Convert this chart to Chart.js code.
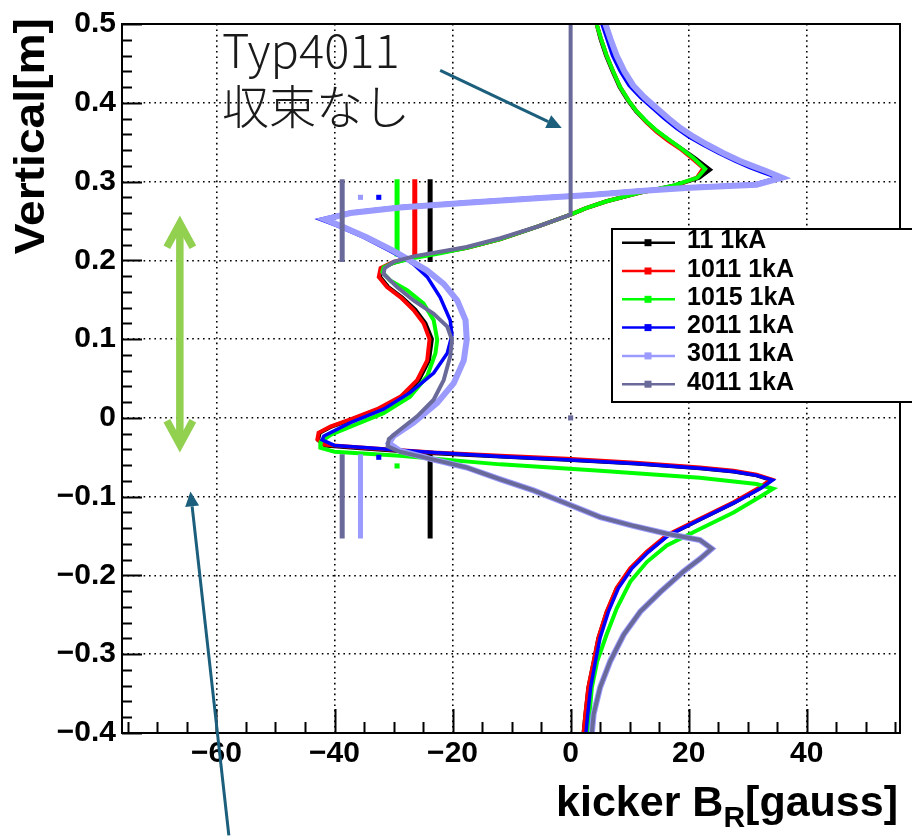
<!DOCTYPE html>
<html>
<head>
<meta charset="utf-8">
<script src="https://cdn.jsdelivr.net/npm/chart.js@4.4.1/dist/chart.umd.min.js"></script>
<style>
  html, body { margin: 0; padding: 0; background: #ffffff; }
  canvas { display: block; }
</style>
</head>
<body>
<canvas id="c" width="912" height="836"></canvas>
<script>
// Kicker radial field B_R [gauss] versus vertical position [m] for six kicker types at 1 kA.
// Each curve is a list of [B_R, vertical] samples.
const curve11 = [[4.4,0.5],[5.1,0.48],[6.0,0.46],[7.1,0.44],[8.3,0.42],[9.7,0.403],[11.1,0.389],[12.8,0.376],[14.6,0.364],[16.6,0.353],[18.7,0.342],[21.0,0.33],[23.6,0.315],[21.8,0.305],[17.6,0.295],[11.8,0.286],[6.1,0.275],[2.5,0.266],[0,0.258],[-5.5,0.243],[-11.9,0.227],[-17.6,0.216],[-22.1,0.21],[-26.6,0.204],[-30,0.197],[-32,0.19],[-32.3,0.179],[-30.9,0.166],[-28.6,0.153],[-26.3,0.137],[-24.6,0.12],[-23.5,0.1],[-24,0.073],[-25.7,0.048],[-28.5,0.027],[-32.5,0.011],[-37,-0.002],[-40.5,-0.011],[-42.5,-0.019],[-42.8,-0.028],[-41.6,-0.035],[-35,-0.039],[-28.9,-0.042],[-23.2,-0.045],[-11.9,-0.049],[-0.6,-0.053],[11,-0.058],[21.9,-0.064],[27.6,-0.068],[31.5,-0.073],[34,-0.079],[32.1,-0.089],[27.6,-0.108],[21.9,-0.129],[16.3,-0.15],[12.9,-0.171],[10.1,-0.192],[7.8,-0.217],[6.1,-0.247],[4.7,-0.28],[3.9,-0.31],[3.0,-0.343],[2.5,-0.377],[2.2,-0.4]];

const curve1011 = [[4.4,0.5],[5.2,0.48],[6.1,0.46],[7.2,0.44],[8.4,0.42],[9.8,0.403],[11.2,0.389],[12.9,0.375],[14.6,0.363],[16.5,0.352],[18.5,0.342],[20.5,0.33],[22.5,0.317],[21.4,0.305],[17.4,0.294],[11.8,0.286],[6.1,0.275],[2.5,0.266],[0,0.258],[-5.5,0.243],[-11.9,0.227],[-17.6,0.216],[-22.1,0.21],[-26.6,0.204],[-30,0.198],[-32.2,0.19],[-32.5,0.179],[-31.1,0.166],[-28.8,0.153],[-26.6,0.137],[-24.9,0.12],[-23.9,0.1],[-24.3,0.073],[-26,0.048],[-28.8,0.027],[-32.8,0.011],[-37.3,-0.002],[-40.7,-0.011],[-42.7,-0.019],[-42.9,-0.027],[-41.8,-0.034],[-35,-0.038],[-28.9,-0.041],[-23.2,-0.044],[-11.9,-0.048],[-0.6,-0.052],[11,-0.057],[21.9,-0.063],[27.6,-0.067],[31.5,-0.072],[34,-0.078],[32.1,-0.088],[27.6,-0.107],[21.9,-0.128],[16.3,-0.149],[12.9,-0.17],[10.1,-0.191],[7.8,-0.216],[6.1,-0.246],[4.7,-0.279],[3.9,-0.309],[3.0,-0.342],[2.5,-0.376],[2.2,-0.4]];

const curve1015 = [[4.4,0.5],[5.2,0.48],[6.1,0.46],[7.2,0.44],[8.4,0.42],[9.8,0.403],[11.2,0.389],[12.9,0.376],[14.7,0.364],[16.7,0.353],[18.7,0.342],[20.8,0.33],[22.8,0.316],[21.5,0.305],[17.5,0.295],[11.8,0.286],[6.1,0.275],[2.5,0.266],[0,0.258],[-5.5,0.243],[-11.9,0.227],[-17.6,0.216],[-22.1,0.209],[-26.6,0.203],[-30,0.197],[-31.7,0.191],[-31.9,0.185],[-30.5,0.174],[-27.7,0.162],[-24.9,0.145],[-23.2,0.124],[-22.6,0.099],[-22.9,0.082],[-24.3,0.053],[-27.2,0.027],[-31.7,0.006],[-37.3,-0.011],[-40.5,-0.021],[-42.3,-0.03],[-42.4,-0.038],[-40,-0.043],[-28.9,-0.048],[-11.9,-0.059],[5,-0.067],[21.9,-0.076],[31.5,-0.084],[34.3,-0.09],[32.1,-0.1],[27.6,-0.12],[21.9,-0.141],[16.3,-0.162],[12.9,-0.183],[10.1,-0.208],[7.8,-0.242],[6.1,-0.275],[4.5,-0.309],[3.6,-0.342],[3.2,-0.376],[2.9,-0.4]];

const curve2011 = [[5.3,0.5],[6.2,0.48],[7.1,0.46],[8.4,0.44],[9.9,0.422],[11.8,0.407],[13.9,0.393],[15.9,0.38],[17.9,0.368],[20.0,0.357],[22.3,0.347],[25.1,0.336],[27.9,0.326],[30.3,0.318],[32.4,0.312],[35.0,0.305],[31.3,0.297],[20.2,0.293],[11.8,0.289],[3.3,0.284],[-5.1,0.28],[-17.6,0.274],[-28.9,0.268],[-37.3,0.261],[-42.4,0.252],[-39.6,0.244],[-35,0.229],[-30.6,0.212],[-27.6,0.2],[-26.6,0.195],[-24.3,0.179],[-22.1,0.153],[-20.4,0.124],[-20.1,0.105],[-20.9,0.082],[-23.2,0.057],[-27.2,0.032],[-31.7,0.011],[-37.3,-0.006],[-41.8,-0.023],[-42.1,-0.028],[-40,-0.035],[-34.5,-0.038],[-28.9,-0.041],[-23.2,-0.044],[-11.9,-0.049],[-0.6,-0.053],[11,-0.058],[21.9,-0.064],[27.6,-0.068],[31.5,-0.073],[34.2,-0.079],[32.3,-0.089],[27.9,-0.107],[22.2,-0.128],[16.6,-0.149],[13.2,-0.17],[10.4,-0.191],[8.1,-0.216],[6.4,-0.246],[5.0,-0.279],[4.2,-0.309],[3.4,-0.342],[2.9,-0.376],[2.6,-0.4]];

const curve3011 = [[5.9,0.5],[6.8,0.48],[7.8,0.46],[9.1,0.44],[10.6,0.422],[12.5,0.407],[14.6,0.393],[16.6,0.38],[18.6,0.368],[20.8,0.357],[23.1,0.347],[25.9,0.336],[28.7,0.326],[31.1,0.319],[33.2,0.313],[35.8,0.305],[31.5,0.296],[20.2,0.292],[11.8,0.288],[3.3,0.283],[-5.1,0.279],[-17.6,0.273],[-28.9,0.267],[-37.3,0.26],[-41.6,0.252],[-39,0.244],[-34.5,0.229],[-30,0.212],[-27.2,0.2],[-24.3,0.187],[-21.5,0.17],[-19.2,0.149],[-17.8,0.124],[-17.6,0.099],[-18.1,0.073],[-19.8,0.044],[-22.6,0.019],[-26.6,-0.006],[-30,-0.023],[-30.8,-0.032],[-28.9,-0.042],[-23.2,-0.053],[-17.6,-0.063],[-11.9,-0.078],[-6.3,-0.092],[-0.6,-0.109],[5,-0.126],[10.6,-0.137],[16.3,-0.147],[21.9,-0.155],[23.9,-0.166],[21.9,-0.179],[19.1,-0.195],[15.2,-0.221],[11.8,-0.246],[9,-0.275],[6.7,-0.309],[5,-0.342],[3.9,-0.376],[3.6,-0.4]];

const curve4011 = [[0,0.5],[0,0.45],[0,0.4],[0,0.35],[0,0.3],[0,0.258],[-5.5,0.243],[-11.9,0.228],[-17.6,0.217],[-22.1,0.211],[-26.6,0.205],[-30,0.198],[-31.5,0.19],[-31.7,0.183],[-29.4,0.166],[-26.6,0.149],[-23.2,0.132],[-20.9,0.116],[-20.1,0.099],[-20.4,0.078],[-21.5,0.048],[-23.2,0.023],[-26,0.002],[-28.9,-0.015],[-30.8,-0.027],[-31,-0.036],[-28.9,-0.043],[-23.2,-0.053],[-17.6,-0.063],[-11.9,-0.078],[-6.3,-0.092],[-0.6,-0.109],[5,-0.126],[10.6,-0.137],[16.3,-0.147],[21.9,-0.155],[23.9,-0.166],[21.9,-0.179],[19.1,-0.195],[15.2,-0.221],[11.8,-0.246],[9,-0.275],[6.7,-0.309],[5,-0.342],[3.9,-0.376],[3.6,-0.4]];

// Range averages: [B_R, vertical top, vertical bottom]
const bars11   = [[-23.8, 0.303, 0.198], [-23.8, -0.046, -0.153]];
const bars1011 = [[-26.4, 0.303, 0.206]];
const bars1015 = [[-29.4, 0.303, 0.205]];
const bars3011 = [[-35.6, -0.046, -0.153]];
const bars4011 = [[-38.7, 0.303, 0.198], [-38.7, -0.046, -0.153]];

// Single averaged points: [B_R, vertical]
const dots1015 = [[-29.4, -0.061]];
const dots2011 = [[-32.5, 0.28], [-32.5, -0.05]];
const dots3011 = [[-35.6, 0.28]];
const dots4011 = [[0, 0]];

const seriesNames = ['11 1kA', '1011 1kA', '1015 1kA', '2011 1kA', '3011 1kA', '4011 1kA'];
const xTickValues = [-60, -40, -20, 0, 20, 40];
const yTickValues = [-0.4, -0.3, -0.2, -0.1, 0, 0.1, 0.2, 0.3, 0.4, 0.5];

// Styling for each series, in the order of seriesNames
const seriesColors = ['#000000', '#ff0000', '#00ff00', '#0000ff', '#9a9aff', '#69699a'];
const seriesWidths = [4, 4, 4, 3.5, 6, 4];
const drawOrder    = [6, 5, 4, 3, 2, 1];   // lower value is drawn on top

const curves = [curve11, curve1011, curve1015, curve2011, curve3011, curve4011];
const barSets = [bars11, bars1011, bars1015, [], bars3011, bars4011];
const dotSets = [[], [], dots1015, dots2011, dots3011, dots4011];

const toXY = pts => pts.map(p => ({ x: p[0], y: p[1] }));

const datasets = [];
seriesNames.forEach((name, i) => {
  datasets.push({
    label: name,
    isSeries: true,
    data: toXY(curves[i]),
    showLine: true,
    borderColor: seriesColors[i],
    backgroundColor: seriesColors[i],
    borderWidth: seriesWidths[i],
    pointRadius: 0,
    tension: 0,
    order: drawOrder[i]
  });
  barSets[i].forEach(b => {
    datasets.push({
      label: name + ' range',
      data: [{ x: b[0], y: b[1] }, { x: b[0], y: b[2] }],
      showLine: true,
      borderColor: seriesColors[i],
      borderWidth: 5,
      borderCapStyle: 'butt',
      pointRadius: 0,
      order: drawOrder[i]
    });
  });
  if (dotSets[i].length) {
    datasets.push({
      label: name + ' mean',
      data: toXY(dotSets[i]),
      showLine: false,
      pointStyle: 'rect',
      pointRadius: 3.6,
      borderWidth: 0,
      backgroundColor: seriesColors[i],
      borderColor: seriesColors[i],
      order: drawOrder[i]
    });
  }
});

const fmtMinus = s => s.replace('-', '\u2212');

// Frame, inward tick marks, legend box, axis titles and annotations
const decorations = {
  id: 'decorations',
  afterDatasetsDraw(chart) {
    const { ctx, chartArea: a, scales: { x, y } } = chart;
    ctx.save();
    // inner ticks
    ctx.strokeStyle = '#000';
    ctx.lineWidth = 2;
    ctx.beginPath();
    for (let v = -75; v <= 55; v += 5) {
      const px = Math.round(x.getPixelForValue(v)) + 0.5;
      const len = (v % 20 === 0) ? 24 : 11;
      ctx.moveTo(px, a.bottom);
      ctx.lineTo(px, a.bottom - len);
    }
    for (let k = -20; k <= 25; k++) {
      const py = Math.round(y.getPixelForValue(k * 0.02)) + 0.5;
      const len = (k % 5 === 0) ? 20 : 10;
      ctx.moveTo(a.left, py);
      ctx.lineTo(a.left + len, py);
    }
    ctx.stroke();
    // frame
    ctx.lineWidth = 2;
    ctx.strokeRect(a.left, a.top, a.right - a.left, a.bottom - a.top);
    ctx.restore();
  },
  afterDraw(chart) {
    const { ctx, chartArea: a, scales: { x, y } } = chart;
    const X = v => x.getPixelForValue(v);
    const Y = v => y.getPixelForValue(v);
    ctx.save();

    // legend
    const lx = 612, ly = 229, lw = 320, lh = 173;
    ctx.fillStyle = '#fff';
    ctx.fillRect(lx, ly, lw, lh);
    ctx.strokeStyle = '#000';
    ctx.lineWidth = 2;
    ctx.strokeRect(lx, ly, lw, lh);
    const series = chart.data.datasets.filter(d => d.isSeries);
    ctx.font = 'bold 25px "Liberation Sans", Arial, sans-serif';
    ctx.textBaseline = 'alphabetic';
    ctx.textAlign = 'left';
    series.forEach((d, i) => {
      const ry = 242.7 + i * 28.3;
      ctx.strokeStyle = d.borderColor;
      ctx.lineWidth = 2.5;
      ctx.beginPath();
      ctx.moveTo(622, ry);
      ctx.lineTo(675, ry);
      ctx.stroke();
      ctx.fillStyle = d.borderColor;
      ctx.fillRect(644.5, ry - 3.5, 7, 7);
      ctx.fillStyle = '#000';
      ctx.fillText(d.label, 687, ry + 5.5);
    });

    // y axis title
    ctx.save();
    ctx.translate(44, 18);
    ctx.rotate(-Math.PI / 2);
    ctx.scale(1.1, 1);
    ctx.font = 'bold 42px "Liberation Sans", Arial, sans-serif';
    ctx.fillStyle = '#000';
    ctx.textAlign = 'right';
    ctx.textBaseline = 'alphabetic';
    ctx.fillText('Vertical[m]', 0, 0);
    ctx.restore();

    // x axis title with subscript
    ctx.save();
    ctx.fillStyle = '#000';
    ctx.textBaseline = 'alphabetic';
    const big = 'bold 43px "Liberation Sans", Arial, sans-serif';
    const sub = 'bold 30px "Liberation Sans", Arial, sans-serif';
    ctx.font = big;
    const wA = ctx.measureText('kicker B').width;
    const wC = ctx.measureText('[gauss]').width;
    ctx.font = sub;
    const wB = ctx.measureText('R').width;
    const endX = 898, base = 816;
    const startX = endX - (wA + wB + wC);
    ctx.font = big;
    ctx.fillText('kicker B', startX, base);
    ctx.font = sub;
    ctx.fillText('R', startX + wA, base + 11);
    ctx.font = big;
    ctx.fillText('[gauss]', startX + wA + wB, base);
    ctx.restore();

    // note text
    ctx.fillStyle = '#1a1a1a';
    ctx.font = '300 47px "Noto Sans CJK JP", "Noto Sans", sans-serif';
    ctx.textAlign = 'left';
    ctx.textBaseline = 'alphabetic';
    ctx.fillText('Typ4011', 222, 68);
    ctx.fillText('収束なし', 222, 124);

    // arrows
    const arrow = (x1, y1, x2, y2, color, w, head, hw) => {
      const ang = Math.atan2(y2 - y1, x2 - x1);
      const bx = x2 - head * Math.cos(ang), by = y2 - head * Math.sin(ang);
      ctx.strokeStyle = color;
      ctx.fillStyle = color;
      ctx.lineWidth = w;
      ctx.lineCap = 'butt';
      ctx.beginPath();
      ctx.moveTo(x1, y1);
      ctx.lineTo(bx, by);
      ctx.stroke();
      ctx.beginPath();
      ctx.moveTo(x2, y2);
      ctx.lineTo(bx + hw * Math.sin(ang), by - hw * Math.cos(ang));
      ctx.lineTo(bx - hw * Math.sin(ang), by + hw * Math.cos(ang));
      ctx.closePath();
      ctx.fill();
    };
    const teal = '#1b5f7c';
    arrow(X(-22.1), Y(0.441), X(-1.5), Y(0.368), teal, 3, 15, 7);
    arrow(X(-57.9), Y(-0.53), X(-64.4), Y(-0.0933), teal, 3, 15, 7);

    // double-headed span arrow
    const gx = X(-66.2), gTop = Y(0.247), gBot = Y(-0.034);
    ctx.strokeStyle = '#92d050';
    ctx.lineWidth = 7.5;
    ctx.lineJoin = 'miter';
    ctx.lineCap = 'butt';
    ctx.beginPath();
    ctx.moveTo(gx, gTop + 2);
    ctx.lineTo(gx, gBot - 2);
    ctx.stroke();
    ctx.beginPath();
    ctx.moveTo(gx - 13, gTop + 24);
    ctx.lineTo(gx, gTop);
    ctx.lineTo(gx + 13, gTop + 24);
    ctx.moveTo(gx - 13, gBot - 24);
    ctx.lineTo(gx, gBot);
    ctx.lineTo(gx + 13, gBot - 24);
    ctx.stroke();

    ctx.restore();
  }
};

const tickFont = { family: '"Liberation Sans", Arial, sans-serif', size: 30, weight: 'bold' };

new Chart(document.getElementById('c'), {
  type: 'scatter',
  data: { datasets },
  options: {
    responsive: false,
    animation: false,
    events: [],
    layout: { padding: { top: 19, right: 12, left: 0, bottom: 0 } },
    plugins: { legend: { display: false }, tooltip: { enabled: false } },
    scales: {
      x: {
        type: 'linear',
        min: -76,
        max: 55.8,
        afterFit: s => { s.height = 103; },
        afterBuildTicks: s => { s.ticks = xTickValues.map(v => ({ value: v })); },
        ticks: {
          autoSkip: false,
          maxRotation: 0,
          padding: 3,
          color: '#000',
          font: tickFont,
          callback: v => fmtMinus(String(Math.round(v)))
        },
        grid: { color: '#000000', lineWidth: 1.6, drawTicks: false },
        border: { display: false, dash: [1.6, 3.8] }
      },
      y: {
        type: 'linear',
        min: -0.4,
        max: 0.5,
        afterFit: s => { s.width = 122; },
        afterBuildTicks: s => { s.ticks = yTickValues.map(v => ({ value: v })); },
        ticks: {
          autoSkip: false,
          padding: 6,
          color: '#000',
          font: tickFont,
          callback: v => Math.abs(v) < 1e-9 ? '0' : fmtMinus(v.toFixed(1))
        },
        grid: { color: '#000000', lineWidth: 1.6, drawTicks: false },
        border: { display: false, dash: [1.6, 3.8] }
      }
    }
  },
  plugins: [decorations]
});
</script>
</body>
</html>
